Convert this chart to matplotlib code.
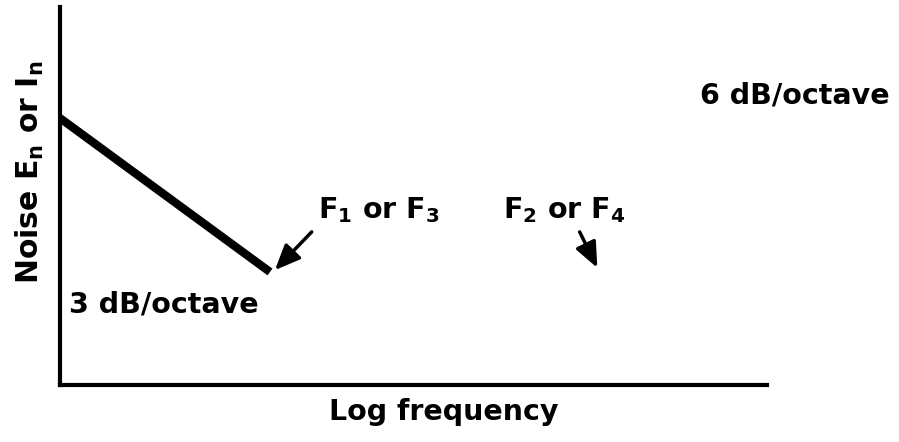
import matplotlib.pyplot as plt

plt.rcParams['font.family'] = ['DejaVu Sans']
plt.rcParams['mathtext.default'] = 'regular'

# noise curve in normalized log-frequency / noise units
curve_x = [0.0, 0.297]
curve_y = [0.706, 0.299]

# arrows: (tail, head)
arrows = [((0.356, 0.405), (0.304, 0.304)),
          ((0.735, 0.405), (0.760, 0.310))]

labels = ['F$_1$ or F$_3$', 'F$_2$ or F$_4$', '6 dB/octave', '3 dB/octave']
label_pos = [(0.365, 0.462), (0.626, 0.462), (0.905, 0.767), (0.013, 0.212)]

fig = plt.figure(figsize=(8.99, 4.42), dpi=100)
ax = fig.add_axes([60 / 899, 57 / 442, 707 / 899, 378 / 442])
ax.set_xlim(0, 1)
ax.set_ylim(0, 1)

ax.plot(curve_x, curve_y, color='black', linewidth=6, solid_capstyle='butt')

for tail, head in arrows:
    ax.annotate('', xy=head, xytext=tail,
                arrowprops=dict(arrowstyle='-|>,head_length=0.7,head_width=0.3',
                                color='black', lw=2.5,
                                mutation_scale=22, shrinkA=0, shrinkB=0))

for text, (x, y) in zip(labels, label_pos):
    ax.text(x, y, text, fontsize=20.5, fontweight='bold', ha='left', va='center',
            clip_on=False)

for side in ['top', 'right']:
    ax.spines[side].set_visible(False)
for side in ['left', 'bottom']:
    ax.spines[side].set_linewidth(3)
ax.set_xticks([])
ax.set_yticks([])

ax.set_xlabel('Log frequency', fontsize=20.5, fontweight='bold')
ax.xaxis.set_label_coords(0.543, -0.035)
ax.set_ylabel('Noise E$_n$ or I$_n$', fontsize=21.5, fontweight='bold')
ax.yaxis.set_label_coords(-0.02, 0.563)

fig.savefig('out.png', dpi=100)
